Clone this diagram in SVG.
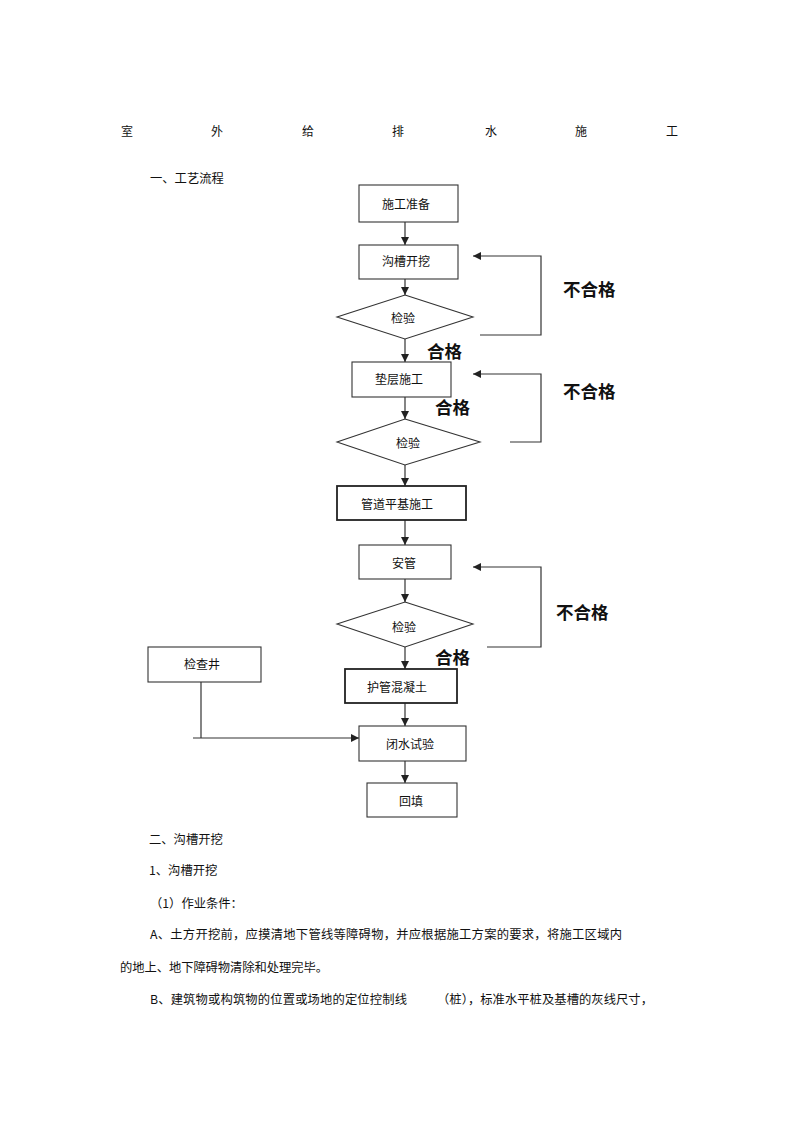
<svg xmlns="http://www.w3.org/2000/svg" width="800" height="1133" viewBox="0 0 800 1133">
<defs>
<style>
.t{font-family:"Noto Sans CJK SC","Liberation Sans",sans-serif;font-size:12.3px;fill:#111;dominant-baseline:central}
.n{font-family:"Noto Sans CJK SC","Liberation Sans",sans-serif;font-size:12px;fill:#111;dominant-baseline:central;text-anchor:middle}
.b{font-family:"Noto Sans CJK SC","Liberation Sans",sans-serif;font-size:17.5px;font-weight:700;fill:#111;dominant-baseline:central}
.box{fill:#fff;stroke:#333;stroke-width:1.1}
.bx2{fill:#fff;stroke:#222;stroke-width:1.8}
.c{fill:none;stroke:#333;stroke-width:1.2}
</style>
<marker id="ah" viewBox="0 0 10 10" refX="10" refY="5" markerWidth="8" markerHeight="8" markerUnits="userSpaceOnUse" orient="auto">
<path d="M0,0 L10,5 L0,10 z" fill="#222"/>
</marker>
</defs>
<rect width="800" height="1133" fill="#fff"/>

<g id="title">
<text class="n" x="127" y="130">室</text>
<text class="n" x="217" y="130">外</text>
<text class="n" x="308" y="130">给</text>
<text class="n" x="398" y="130">排</text>
<text class="n" x="491" y="130">水</text>
<text class="n" x="581" y="130">施</text>
<text class="n" x="672" y="130">工</text>
</g>
<text class="t" x="150" y="178">一、工艺流程</text>

<g id="connectors">
<line class="c" x1="405" y1="222" x2="405" y2="245" marker-end="url(#ah)"/>
<line class="c" x1="405" y1="279" x2="405" y2="295" marker-end="url(#ah)"/>
<line class="c" x1="405" y1="339" x2="405" y2="362" marker-end="url(#ah)"/>
<line class="c" x1="405" y1="397" x2="405" y2="419" marker-end="url(#ah)"/>
<line class="c" x1="405" y1="465" x2="405" y2="486" marker-end="url(#ah)"/>
<line class="c" x1="405" y1="520" x2="405" y2="545" marker-end="url(#ah)"/>
<line class="c" x1="405" y1="579" x2="405" y2="602" marker-end="url(#ah)"/>
<line class="c" x1="405" y1="647" x2="405" y2="669" marker-end="url(#ah)"/>
<line class="c" x1="405" y1="703" x2="405" y2="726" marker-end="url(#ah)"/>
<line class="c" x1="405" y1="761" x2="405" y2="783" marker-end="url(#ah)"/>
<polyline class="c" points="480,335 541,335 541,256 473,256" marker-end="url(#ah)"/>
<polyline class="c" points="510,442 541,442 541,374 473,374" marker-end="url(#ah)"/>
<polyline class="c" points="487,647 541,647 541,567 473,567" marker-end="url(#ah)"/>
<line class="c" x1="201" y1="682" x2="201" y2="738"/>
<line class="c" x1="193" y1="738" x2="359" y2="738" marker-end="url(#ah)"/>
</g>

<g id="n1"><rect class="box" x="359" y="185" width="99" height="37"/><text class="n" x="406" y="203">施工准备</text></g>
<g id="n2"><rect class="box" x="359" y="245" width="99" height="34"/><text class="n" x="406" y="260">沟槽开挖</text></g>
<g id="d1"><polygon class="box" points="405,295 473,317 405,339 337,317"/><text class="n" x="403" y="317">检验</text></g>
<g id="n3"><rect class="box" x="352" y="362" width="99" height="35"/><text class="n" x="399" y="378">垫层施工</text></g>
<g id="d2"><polygon class="box" points="405,419 480,442 405,465 337,442"/><text class="n" x="408" y="442">检验</text></g>
<g id="n4"><rect class="bx2" x="337" y="486" width="129" height="34"/><text class="n" x="397" y="503">管道平基施工</text></g>
<g id="n5"><rect class="box" x="359" y="545" width="92" height="34"/><text class="n" x="404" y="562">安管</text></g>
<g id="d3"><polygon class="box" points="405,602 473,624 405,647 337,624"/><text class="n" x="404" y="626">检验</text></g>
<g id="n6"><rect class="bx2" x="345" y="669" width="112" height="34"/><text class="n" x="397" y="686">护管混凝土</text></g>
<g id="n7"><rect class="box" x="148" y="647" width="113" height="35"/><text class="n" x="202" y="663">检查井</text></g>
<g id="n8"><rect class="box" x="359" y="726" width="107" height="35"/><text class="n" x="410" y="743">闭水试验</text></g>
<g id="n9"><rect class="box" x="367" y="783" width="90" height="34"/><text class="n" x="411" y="800">回填</text></g>

<g id="labels">
<text class="b" x="563" y="288">不合格</text>
<text class="b" x="427" y="350">合格</text>
<text class="b" x="563" y="390">不合格</text>
<text class="b" x="435" y="406">合格</text>
<text class="b" x="556" y="611">不合格</text>
<text class="b" x="435" y="656">合格</text>
</g>

<g id="body">
<text class="t" x="149" y="839">二、沟槽开挖</text>
<text class="t" x="149" y="870">1、沟槽开挖</text>
<text class="t" x="150" y="903">（1）作业条件：</text>
<text class="t" x="150" y="934" textLength="472" lengthAdjust="spacing">A、土方开挖前，应摸清地下管线等障碍物，并应根据施工方案的要求，将施工区域内</text>
<text class="t" x="120" y="967" textLength="208" lengthAdjust="spacing">的地上、地下障碍物清除和处理完毕。</text>
<text class="t" x="150" y="999" textLength="257" lengthAdjust="spacing">B、建筑物或构筑物的位置或场地的定位控制线</text>
<text class="t" x="437" y="999" textLength="216" lengthAdjust="spacing">（桩），标准水平桩及基槽的灰线尺寸，</text>
</g>
</svg>
